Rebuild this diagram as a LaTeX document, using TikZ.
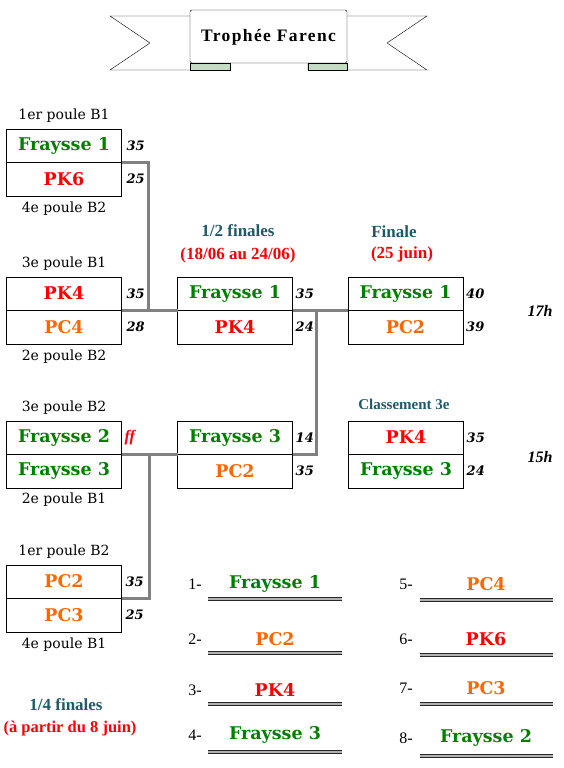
\documentclass[tikz,border=0pt]{standalone}
\usepackage{fontspec}
\setmainfont{Liberation Serif}
\newfontfamily\teamfont{DejaVu Serif}
\usetikzlibrary{positioning}

\definecolor{fgreen}{HTML}{008000}
\definecolor{pkred}{HTML}{FF0000}
\definecolor{pcorange}{HTML}{FF6600}
\definecolor{headteal}{HTML}{1F5A6A}
\definecolor{foldgreen}{HTML}{C4DCC4}

\tikzset{
  team/.style={draw, rectangle, minimum width=115pt, minimum height=33.5pt,
    inner sep=0pt, outer sep=0pt, font=\teamfont\bfseries\fontsize{17.5}{18}\selectfont},
  rankteam/.style={inner sep=0pt, font=\teamfont\bfseries\fontsize{17.5}{18}\selectfont},
  poule/.style={inner sep=0pt, font=\teamfont\fontsize{14}{14}\selectfont},
  score/.style={inner sep=0pt, font=\teamfont\bfseries\itshape\fontsize{13}{13}\selectfont},
  heading/.style={inner sep=0pt, text=headteal, font=\bfseries\fontsize{17}{17}\selectfont},
  dates/.style={inner sep=0pt, text=pkred, font=\bfseries\fontsize{17}{17}\selectfont},
  hour/.style={inner sep=0pt, font=\bfseries\itshape\fontsize{16}{16}\selectfont},
  ranknum/.style={inner sep=0pt, font=\fontsize{16}{16}\selectfont},
  link/.style={draw=gray, line width=3pt},
  rankline/.style={draw=black!85, double=gray!60, double distance=1.2pt, line width=1.1pt}
}

\begin{document}
\begin{tikzpicture}[x=1pt, y=-1pt]
  \useasboundingbox (0,0) rectangle (564,768);

  % banner
  \draw[fill=white] (190,16) -- (110,16) -- (150,43) -- (110,70) -- (230,70) -- (230,63);
  \draw[fill=white] (347,16) -- (427,16) -- (387,43) -- (427,70) -- (308,70) -- (308,63);
  \draw[fill=foldgreen] (190,63) rectangle (230,70);
  \draw[fill=foldgreen] (308,63) rectangle (347,70);
  \draw[fill=white, rounded corners=2pt] (190,10) rectangle (347,63);
  \node[font=\bfseries\fontsize{17.5}{18}\selectfont\addfontfeature{LetterSpace=8}] (trophy) at (268.5,37) {Trophée Farenc};

  % connectors
  \node[team, text=fgreen] (q1a) at (64,145.5) {Fraysse 1};
  \node[team, text=pkred, below=0pt of q1a] (q1b) {PK6};
  \node[team, text=pkred] (q2a) at (64,293.5) {PK4};
  \node[team, text=pcorange, below=0pt of q2a] (q2b) {PC4};
  \node[team, text=fgreen] (q3a) at (64,437.5) {Fraysse 2};
  \node[team, text=fgreen, below=0pt of q3a] (q3b) {Fraysse 3};
  \node[team, text=pcorange] (q4a) at (64,581.5) {PC2};
  \node[team, text=pcorange, below=0pt of q4a] (q4b) {PC3};

  \node[team, text=fgreen] (s1a) at (235,293.5) {Fraysse 1};
  \node[team, text=pkred, below=0pt of s1a] (s1b) {PK4};
  \node[team, text=fgreen] (s2a) at (235,437.5) {Fraysse 3};
  \node[team, text=pcorange, below=0pt of s2a] (s2b) {PC2};

  \node[team, text=fgreen] (f1a) at (405.5,293.5) {Fraysse 1};
  \node[team, text=pcorange, below=0pt of f1a] (f1b) {PC2};
  \node[team, text=pkred] (c3a) at (406,437.5) {PK4};
  \node[team, text=fgreen, below=0pt of c3a] (c3b) {Fraysse 3};

  \draw[link] (q1a.south east) -- ++(27,0) |- (s1a.south west);
  \draw[link] (q2a.south east) -- (s1a.south west);
  \draw[link] (q3a.south east) -- (s2a.south west);
  \draw[link] (q4a.south east) -- ++(28,0) |- (s2a.south west);
  \draw[link] (s1a.south east) -- (f1a.south west);
  \draw[link] (s1a.south east) -- ++(24,0) |- (s2a.south east);

  % pools
  \node[poule, above=6pt of q1a] (p1) {1er poule B1};
  \node[poule, below=6pt of q1b] (p2) {4e poule B2};
  \node[poule, above=6pt of q2a] (p3) {3e poule B1};
  \node[poule, below=6pt of q2b] (p4) {2e poule B2};
  \node[poule, above=6pt of q3a] (p5) {3e poule B2};
  \node[poule, below=5pt of q3b] (p6) {2e poule B1};
  \node[poule, above=6pt of q4a] (p7) {1er poule B2};
  \node[poule, below=6pt of q4b] (p8) {4e poule B1};

  % scores
  \node[score, right=5pt of q1a] (sc1) {35};
  \node[score, right=5pt of q1b] (sc2) {25};
  \node[score, right=5pt of q2a] (sc3) {35};
  \node[score, right=5pt of q2b] (sc4) {28};
  \node[score, text=pkred, font=\bfseries\itshape\fontsize{16}{16}\selectfont, right=3pt of q3a] (sc5) {ff};
  \node[score, right=4pt of q4a] (sc6) {35};
  \node[score, right=4pt of q4b] (sc7) {25};
  \node[score, right=3pt of s1a] (sc8) {35};
  \node[score, right=3pt of s1b] (sc9) {24};
  \node[score, right=3pt of s2a] (sc10) {14};
  \node[score, right=3pt of s2b] (sc11) {35};
  \node[score, right=3pt of f1a] (sc12) {40};
  \node[score, right=3pt of f1b] (sc13) {39};
  \node[score, right=3pt of c3a] (sc14) {35};
  \node[score, right=3pt of c3b] (sc15) {24};

  % headings
  \node[heading] (semi) at (238,231) {1/2 finales};
  \node[dates] (semid) at (238,255) {(18/06 au 24/06)};
  \node[heading] (fin) at (394,232) {Finale};
  \node[dates] (find) at (402,254) {(25 juin)};
  \node[heading, font=\bfseries\fontsize{15}{15}\selectfont] (third) at (404,404) {Classement 3e};
  \node[hour] (h17) at (540,311) {17h};
  \node[hour] (h15) at (540,457) {15h};
  \node[heading] (quart) at (66,705) {1/4 finales};
  \node[dates, font=\bfseries\fontsize{16.5}{17}\selectfont] (quartd) at (70,729) {(à partir du 8 juin)};

  % ranking
  \foreach \rk/\ty/\ly/\who/\col in {1/584/599/Fraysse 1/fgreen, 2/639/653/PC2/pcorange,
      3/690/704/PK4/pkred, 4/735/752/Fraysse 3/fgreen}{
    \node[ranknum] (n\rk) at (195,\ty) {\rk-};
    \node[rankteam, text=\col] (r\rk) at (275,\ty) {\who};
    \coordinate (u\rk a) at (208,\ly);
    \coordinate (u\rk b) at (342,\ly);
    \draw[rankline] (u\rk a) -- (u\rk b);
  }
  \foreach \rk/\ty/\ly/\who/\col in {5/584/600/PC4/pcorange, 6/639/655/PK6/pkred,
      7/688/704/PC3/pcorange, 8/738/756/Fraysse 2/fgreen}{
    \node[ranknum] (n\rk) at (406,\ty) {\rk-};
    \node[rankteam, text=\col] (r\rk) at (486,\ty) {\who};
    \coordinate (u\rk a) at (420,\ly);
    \coordinate (u\rk b) at (553,\ly);
    \draw[rankline] (u\rk a) -- (u\rk b);
  }
\end{tikzpicture}
\end{document}
